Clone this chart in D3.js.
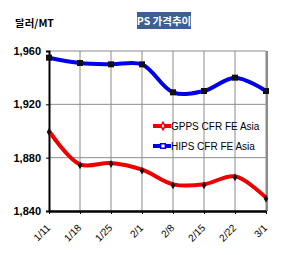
<!DOCTYPE html>
<html>
<head>
<meta charset="utf-8">
<script src="https://cdn.jsdelivr.net/npm/d3@7"></script>
<style>
  body { margin: 0; background: #fff; }
  svg { display: block; font-family: "Liberation Sans", Arial, "Noto Sans CJK KR", sans-serif; }
</style>
</head>
<body>
<div id="chart"></div>
<script>
// PS price trend data (USD/MT)
const dates = ["1/11", "1/18", "1/25", "2/1", "2/8", "2/15", "2/22", "3/1"];
const gpps = [1900, 1875, 1876, 1871, 1860, 1860, 1866, 1850];
const hips = [1955, 1951, 1950, 1950, 1929, 1930, 1940, 1930];
const yTicks = [1840, 1880, 1920, 1960];

const width = 302, height = 255;
const margin = { top: 51, right: 36, bottom: 44, left: 49 };

const svg = d3.select("#chart").append("svg")
  .attr("width", width)
  .attr("height", height);

const x = d3.scalePoint()
  .domain(dates)
  .range([margin.left, width - margin.right]);

const y = d3.scaleLinear()
  .domain([1840, 1960])
  .range([height - margin.bottom, margin.top]);

// Grid
svg.append("g")
  .selectAll("line.v")
  .data(dates.slice(1))
  .enter().append("line")
  .attr("x1", d => x(d)).attr("x2", d => x(d))
  .attr("y1", margin.top).attr("y2", height - margin.bottom)
  .style("stroke", "#8c8c8c").style("stroke-width", 1);

svg.append("g")
  .selectAll("line.h")
  .data(yTicks.slice(1))
  .enter().append("line")
  .attr("x1", margin.left).attr("x2", width - margin.right)
  .attr("y1", d => y(d)).attr("y2", d => y(d))
  .style("stroke", "#8c8c8c").style("stroke-width", 1);

// Right border a bit heavier
svg.append("line")
  .attr("x1", width - margin.right + 1).attr("x2", width - margin.right + 1)
  .attr("y1", margin.top).attr("y2", height - margin.bottom)
  .style("stroke", "#8c8c8c").style("stroke-width", 2);

// Axes
const yAxis = d3.axisLeft(y).tickValues(yTicks).tickSize(3).tickFormat(d3.format(","));
const gy = svg.append("g").attr("transform", `translate(${margin.left},0)`).call(yAxis);
gy.select(".domain").style("stroke", "#000").style("stroke-width", 2);
gy.selectAll("line").style("stroke", "#000");
gy.selectAll("text")
  .attr("x", -8)
  .style("font-size", "11px").style("font-weight", "bold").style("fill", "#000");

const xAxis = d3.axisBottom(x).tickSize(3).tickSizeOuter(0);
const gx = svg.append("g").attr("transform", `translate(0,${height - margin.bottom})`).call(xAxis);
gx.select(".domain").style("stroke", "#000").style("stroke-width", 2.5);
gx.selectAll("line").style("stroke", "#000");
gx.selectAll("text")
  .attr("x", 0).attr("y", 0).attr("dy", "0.35em")
  .attr("transform", "translate(-1,15) rotate(-45)")
  .attr("text-anchor", "end")
  .style("font-size", "10px").style("fill", "#000");

// Lines
const line = d3.line()
  .x((d, i) => x(dates[i]))
  .y(d => y(d))
  .curve(d3.curveCatmullRom.alpha(0.5));

svg.append("path").datum(hips)
  .attr("d", line)
  .style("fill", "none").style("stroke", "#0000e6").style("stroke-width", 4);

svg.append("path").datum(gpps)
  .attr("d", line)
  .style("fill", "none").style("stroke", "#ee0000").style("stroke-width", 4);

// Markers
svg.append("g").selectAll("rect")
  .data(hips)
  .enter().append("rect")
  .attr("x", (d, i) => x(dates[i]) - 3)
  .attr("y", d => y(d) - 3)
  .attr("width", 6).attr("height", 6)
  .style("fill", "#111");

svg.append("g").selectAll("path")
  .data(gpps)
  .enter().append("path")
  .attr("transform", (d, i) => `translate(${x(dates[i])},${y(d) + 1})`)
  .attr("d", d3.symbol(d3.symbolDiamond, 18))
  .style("fill", "#111");

// Legend
const legend = [
  { name: "GPPS CFR FE Asia", color: "#ee0000", shape: "diamond" },
  { name: "HIPS CFR FE Asia", color: "#0000e6", shape: "square" }
];
const lg = svg.append("g").selectAll("g")
  .data(legend)
  .enter().append("g")
  .attr("transform", (d, i) => `translate(153,${126 + i * 20})`);
lg.append("line")
  .attr("x1", 0).attr("x2", 18)
  .style("stroke", d => d.color).style("stroke-width", 4);
lg.append("path")
  .attr("transform", "translate(10,0)")
  .attr("d", d => d3.symbol(d.shape === "square" ? d3.symbolSquare : d3.symbolDiamond, d.shape === "square" ? 22 : 16)())
  .style("fill", "#fff").style("stroke", d => d.color).style("stroke-width", 1.5);
lg.append("text")
  .attr("x", 18).attr("dy", "0.35em")
  .style("font-size", "10px").style("fill", "#000")
  .text(d => d.name);

// Title
svg.append("rect")
  .attr("x", 137).attr("y", 12)
  .attr("width", 54).attr("height", 17)
  .style("fill", "#3d5f91");
svg.append("text")
  .attr("x", 164).attr("y", 21).attr("dy", "0.35em")
  .attr("text-anchor", "middle")
  .style("font-family", "'Noto Sans CJK KR', sans-serif")
  .style("font-size", "10.5px").style("font-weight", "bold").style("fill", "#fff")
  .text("PS 가격추이");

// Unit label
svg.append("text")
  .attr("x", 15).attr("y", 23).attr("dy", "0.35em")
  .style("font-family", "'Noto Sans CJK KR', sans-serif")
  .style("font-size", "10.5px").style("font-weight", "bold").style("fill", "#000")
  .text("달러/MT");
</script>
</body>
</html>
